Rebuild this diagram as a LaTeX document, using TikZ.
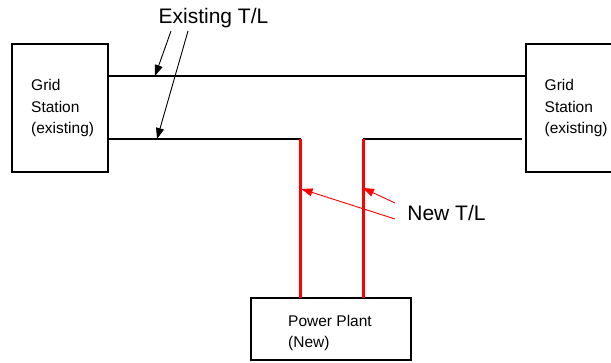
\documentclass[tikz,border=0pt]{standalone}
\usepackage{fontspec}
\setmainfont{Liberation Sans}
\usetikzlibrary{arrows.meta}
\begin{document}
\begin{tikzpicture}[x=1pt,y=-1pt,
  box/.style={draw=black,line width=2.4pt,minimum width=#1,inner sep=0pt},
  boxtext/.style={align=left,inner sep=0pt,font=\fontsize{15.5}{21.5}\selectfont,anchor=west},
  biglabel/.style={inner sep=0pt,font=\fontsize{21}{25}\selectfont},
  wire/.style={line width=2pt,black},
  newwire/.style={line width=2.4pt,red},
  callout/.style={line width=0.9pt,-{Triangle[length=11pt,width=8pt]}}]
\useasboundingbox (0,0) rectangle (611,362);
\clip (0,0) rectangle (611,362);
% boxes
\node[box=96pt,minimum height=128pt] (gl) at (60,108) {};
\node[box=96pt,minimum height=128pt] (gr) at (574,108) {};
\node[box=160pt,minimum height=62pt] (pp) at (331,329) {};
\node[boxtext] (glt) at (31,108) {Grid\\Station\\(existing)};
\node[boxtext] (grt) at (544.5,108) {Grid\\Station\\(existing)};
\node[boxtext] (ppt) at (288,333) {Power Plant\\(New)};
% coordinates
\coordinate (t1) at (108,76);
\coordinate (t2) at (526,76);
\coordinate (b1) at (108,139);
\coordinate (bc1) at (300.5,139);
\coordinate (bc2) at (363.3,139);
\coordinate (b2) at (522,139);
\coordinate (p1) at (300.5,298);
\coordinate (p2) at (363.3,298);
% existing lines
\draw[wire] (t1) -- (t2);
\draw[wire] (b1) -- (bc1);
\draw[wire] (bc2) -- (b2);
% new lines
\draw[newwire] (bc1) -- (p1);
\draw[newwire] (bc2) -- (p2);
% labels
\node[biglabel] (ex) at (213.5,18) {Existing T/L};
\node[biglabel] (nw) at (446.5,213) {New T/L};
% callouts
\coordinate (ea) at (171,31);
\coordinate (eb) at (188,31);
\coordinate (etip1) at (155,76);
\coordinate (etip2) at (157,139);
\draw[callout] (ea) -- (etip1);
\draw[callout] (eb) -- (etip2);
\coordinate (na) at (395,219);
\coordinate (nb) at (395,203);
\coordinate (ntip1) at (301.5,189);
\coordinate (ntip2) at (363,188);
\draw[callout,red] (na) -- (ntip1);
\draw[callout,red] (nb) -- (ntip2);
\end{tikzpicture}
\end{document}
